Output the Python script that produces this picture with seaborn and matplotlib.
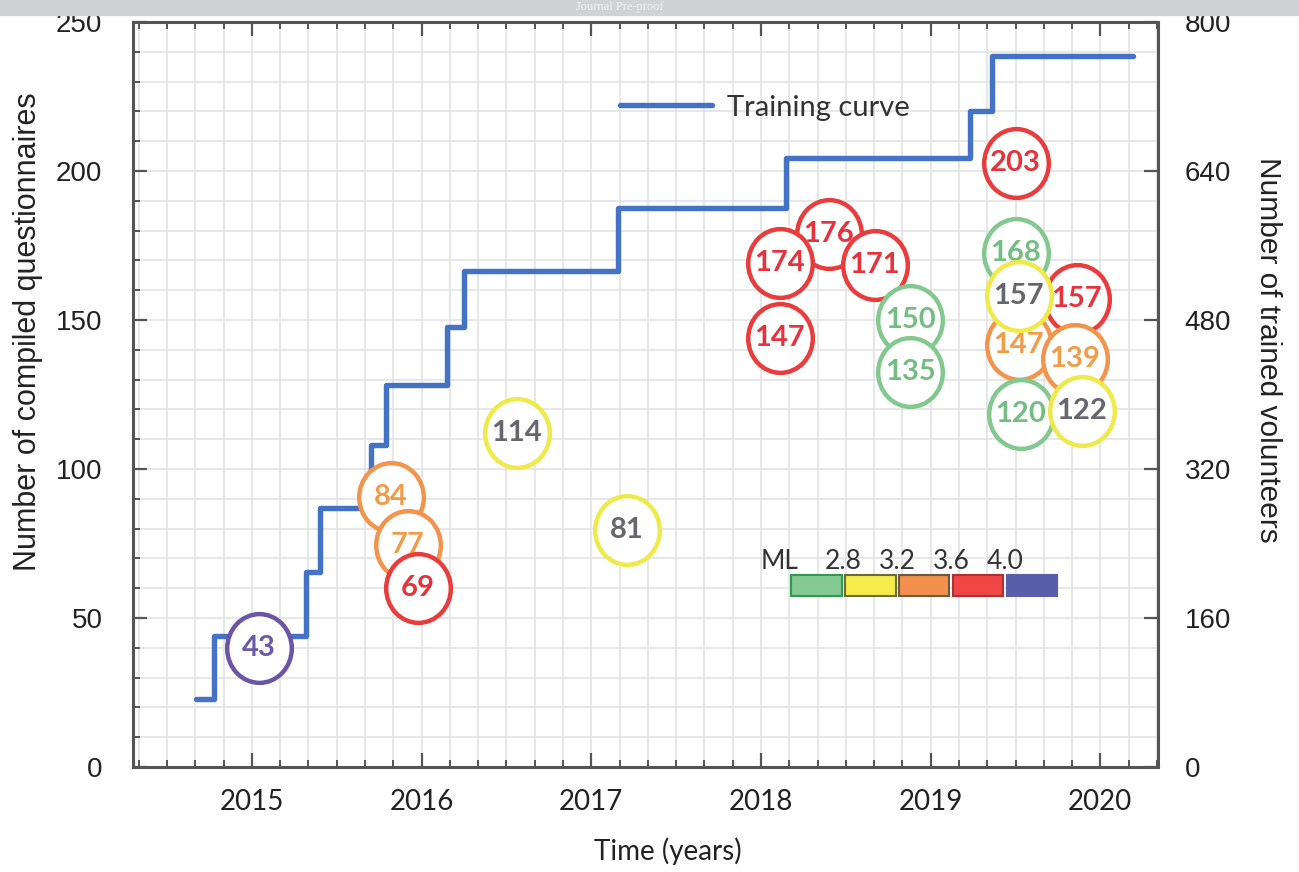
import numpy as np
import pandas as pd
import matplotlib
matplotlib.use("Agg")
import matplotlib.pyplot as plt
from matplotlib.path import Path
from matplotlib.transforms import Affine2D
from matplotlib.ticker import MultipleLocator
import seaborn as sns

sns.set_theme(style="white")
plt.rcParams['font.family'] = ['Lato', 'DejaVu Sans']

# training curve (number of trained volunteers, right axis)
train_time = [2014.67, 2014.78, 2015.32, 2015.40, 2015.70, 2015.79, 2016.15,
              2016.25, 2017.16, 2018.15, 2019.23, 2019.36, 2020.19]
train_volunteers = [73, 141, 209, 278, 346, 410, 472, 533, 600, 654, 704, 763, 763]

# earthquakes: label = compiled questionnaires, listed in drawing order
eq_label = [43, 84, 77, 69, 114, 81, 147, 176, 174, 171, 150, 135, 203,
            168, 147, 157, 139, 157, 120, 122]
eq_time = [2015.04, 2015.82, 2015.92, 2015.98, 2016.56, 2017.21, 2018.11,
           2018.40, 2018.11, 2018.67, 2018.88, 2018.88, 2019.50,
           2019.50, 2019.52, 2019.86, 2019.85, 2019.52, 2019.53, 2019.89]
eq_y = [40, 90.6, 74.5, 60, 112, 79.5, 144, 179, 169, 168.5, 150, 132.5, 202.7,
        172.5, 141.6, 157, 137, 158, 118.5, 119.5]
eq_class = ['4.0+', '3.2', '3.2', '3.6', '2.8', '2.8', '3.6', '3.6', '3.6', '3.6',
            '<2.8', '<2.8', '3.6', '<2.8', '3.2', '3.6', '3.2', '2.8', '<2.8', '2.8']

ml_classes = ['<2.8', '2.8', '3.2', '3.6', '4.0+']
ml_ticks = ['2.8', '3.2', '3.6', '4.0']
ring_colors = {'<2.8': '#83c98f', '2.8': '#f0e94a', '3.2': '#f2944b',
               '3.6': '#e93c3c', '4.0+': '#6a55a8'}
text_colors = {'<2.8': '#74bd82', '2.8': '#66666f', '3.2': '#f09c48',
               '3.6': '#e4333d', '4.0+': '#6a5aa8'}
box_face = ['#86c995', '#f5ec4a', '#f3904d', '#ef4646', '#5a5ea8']
box_edge = ['#2e9a4e', '#6b6a3a', '#6b5a40', '#b03030', '#5a5ea8']

scale = 800 / 250  # volunteers per questionnaire unit

df = pd.DataFrame({'time': eq_time, 'y': eq_y, 'label': eq_label, 'ml': eq_class})
df_train = pd.DataFrame({'time': train_time,
                         'q': np.array(train_volunteers) / scale})

fig = plt.figure(figsize=(12.99, 8.72), dpi=100)
ax = fig.add_axes([0.1024, 0.1204, 0.7891, 0.8544])

ax.set_xlim(2014.30, 2020.34)
ax.set_ylim(0, 250)

sns.lineplot(data=df_train, x='time', y='q', ax=ax, color='#4472c4',
             linewidth=3.9, drawstyle='steps-post', label='Training curve',
             zorder=2, sort=False, estimator=None)

ring = Path.unit_circle().transformed(Affine2D().scale(0.94, 1.0))
for i, row in df.iterrows():
    sns.scatterplot(data=df.iloc[[i]], x='time', y='y', ax=ax, marker=ring,
                    s=2450, facecolor='white', edgecolor=ring_colors[row['ml']],
                    linewidth=3.2, zorder=3 + 2 * i, legend=False)
    ax.text(row['time'], row['y'], str(row['label']), ha='center', va='center',
            fontsize=21, fontweight='bold', color=text_colors[row['ml']],
            zorder=4 + 2 * i)

# ML colour key
key_left, key_w, key_step = 2018.18, 0.295, 0.318
key_x = [key_left + k * key_step for k in range(len(ml_classes))]
ax.bar(key_x, 7.0, width=key_w, bottom=57.4, align='edge', color=box_face,
       edgecolor=box_edge, linewidth=1.5, zorder=50)
ax.text(key_left - 0.07, 64.6, 'ML', ha='center', va='bottom', fontsize=19,
        color='#333333', zorder=50)
for k, t in enumerate(ml_ticks):
    ax.text(key_x[k + 1] - (key_step - key_w) / 2, 64.6, t, ha='center',
            va='bottom', fontsize=19, color='#333333', zorder=50)

# grid, ticks, spines
ax.xaxis.set_major_locator(MultipleLocator(1))
ax.xaxis.set_minor_locator(MultipleLocator(1 / 6))
ax.yaxis.set_major_locator(MultipleLocator(50))
ax.yaxis.set_minor_locator(MultipleLocator(10))
ax.grid(which='both', color='#e3e3e3', linewidth=1.2)
ax.set_axisbelow(True)
ax.tick_params(axis='x', which='major', direction='in', length=10, width=1.6,
               color='#555555', top=True, bottom=True, labelsize=20, pad=16,
               labelcolor='#222222')
ax.tick_params(axis='x', which='minor', direction='in', length=5, width=1.4,
               color='#555555', top=True, bottom=True)
ax.tick_params(axis='y', which='major', direction='in', length=10, width=1.6,
               color='#555555', labelsize=20, pad=22, labelcolor='#222222')
ax.tick_params(axis='y', which='minor', direction='in', length=5, width=1.4,
               color='#555555')
for lab in ax.get_yticklabels():
    lab.set_family(['Liberation Sans', 'DejaVu Sans'])
for sp in ax.spines.values():
    sp.set_color('#555555')
    sp.set_linewidth(2.2)

ax.set_xlabel('Time (years)', fontsize=20, color='#222222')
ax.xaxis.set_label_coords(0.522, -0.094)
ax.set_ylabel('Number of compiled questionnaires', fontsize=22, color='#222222',
              family=['Liberation Sans', 'DejaVu Sans'])
ax.yaxis.set_label_coords(-0.088, 0.584)

ax2 = ax.twinx()
ax2.set_ylim(0, 800)
ax2.yaxis.set_major_locator(MultipleLocator(160))
ax2.tick_params(axis='y', direction='in', length=10, width=1.6, color='#555555',
                labelsize=20, pad=19, labelcolor='#222222')
for lab in ax2.get_yticklabels():
    lab.set_family(['Liberation Sans', 'DejaVu Sans'])
for sp in ax2.spines.values():
    sp.set_visible(False)
ax2.set_ylabel('Number of trained volunteers', fontsize=21.5, color='#222222',
               rotation=270, family=['Liberation Sans', 'DejaVu Sans'])
ax2.yaxis.set_label_coords(1.121, 0.56)

leg = ax.legend(loc='center left', bbox_to_anchor=(0.475, 0.885), frameon=False,
                fontsize=21, handlelength=3.15, handletextpad=0.52,
                borderaxespad=0, borderpad=0)
for t in leg.get_texts():
    t.set_color('#333333')

# grey journal banner at the very top
fig.patches.append(plt.Rectangle((0, 0.983), 1, 0.017, transform=fig.transFigure,
                                 color='#cfd3d6', zorder=0))
fig.text(0.477, 0.9915, 'Journal Pre-proof', ha='center', va='center',
         fontsize=9, color='#eef0f2', family='Liberation Serif')

fig.savefig('out.png', dpi=100)
